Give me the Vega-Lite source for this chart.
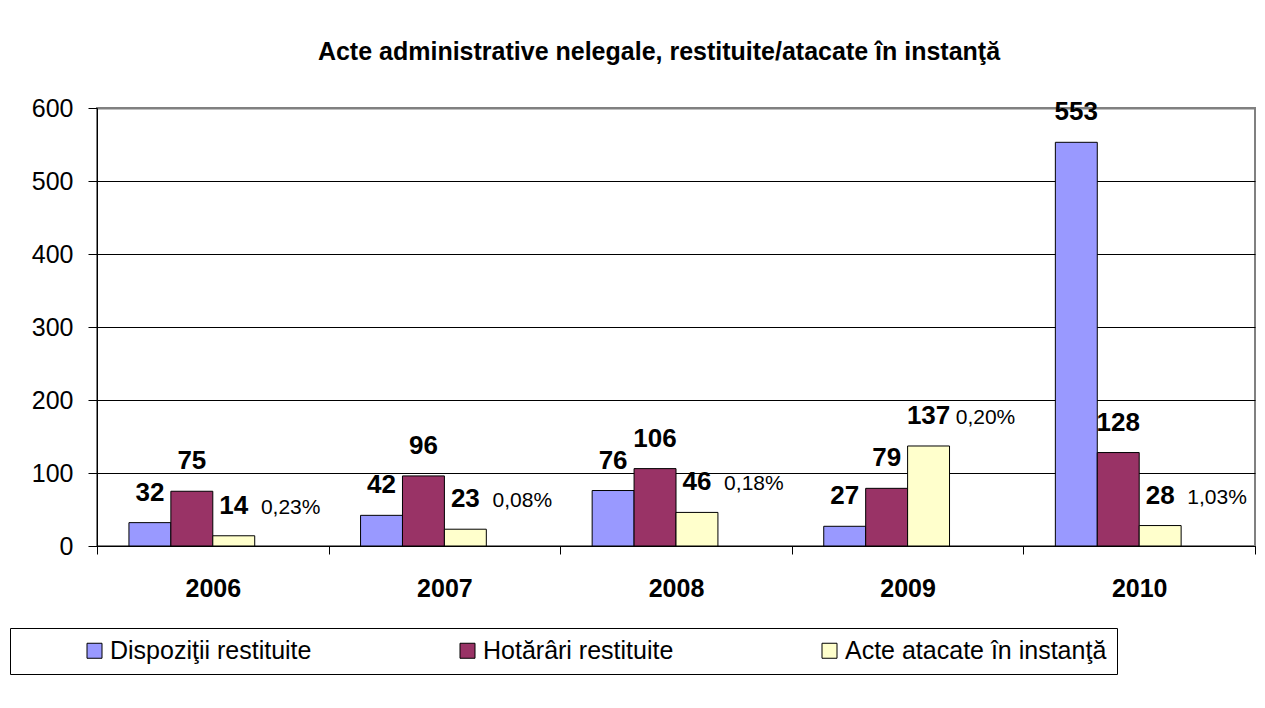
{
  "$schema": "https://vega.github.io/schema/vega-lite/v6.json",
  "autosize": {"type": "none"},
  "padding": {"left": 97, "top": 108, "right": 10, "bottom": 162},
  "width": 1158,
  "height": 438,
  "background": "white",
  "title": {
    "text": "Acte administrative nelegale, restituite/atacate în instanţă",
    "font": "Liberation Sans",
    "fontSize": 25,
    "fontWeight": "bold",
    "color": "black",
    "anchor": "middle",
    "frame": "group",
    "dx": -17,
    "offset": 31
  },
  "datasets": {
    "bars": [
      {"year": "2006", "series": "Dispoziţii restituite", "value": 32},
      {"year": "2006", "series": "Hotărâri restituite", "value": 75},
      {"year": "2006", "series": "Acte atacate în instanţă", "value": 14},
      {"year": "2007", "series": "Dispoziţii restituite", "value": 42},
      {"year": "2007", "series": "Hotărâri restituite", "value": 96},
      {"year": "2007", "series": "Acte atacate în instanţă", "value": 23},
      {"year": "2008", "series": "Dispoziţii restituite", "value": 76},
      {"year": "2008", "series": "Hotărâri restituite", "value": 106},
      {"year": "2008", "series": "Acte atacate în instanţă", "value": 46},
      {"year": "2009", "series": "Dispoziţii restituite", "value": 27},
      {"year": "2009", "series": "Hotărâri restituite", "value": 79},
      {"year": "2009", "series": "Acte atacate în instanţă", "value": 137},
      {"year": "2010", "series": "Dispoziţii restituite", "value": 553},
      {"year": "2010", "series": "Hotărâri restituite", "value": 128},
      {"year": "2010", "series": "Acte atacate în instanţă", "value": 28}
    ],
    "pct": [
      {"year": "2006", "series": "pct", "acte": 14, "pct": "0,23%"},
      {"year": "2007", "series": "pct", "acte": 23, "pct": "0,08%"},
      {"year": "2008", "series": "pct", "acte": 46, "pct": "0,18%"},
      {"year": "2009", "series": "pct", "acte": 137, "pct": "0,20%"},
      {"year": "2010", "series": "pct", "acte": 28, "pct": "1,03%"}
    ]
  },
  "encoding": {
    "x": {
      "field": "year",
      "type": "nominal",
      "scale": {"paddingInner": 0, "paddingOuter": 0},
      "axis": {
        "title": null,
        "labelAngle": 0,
        "labelFont": "Liberation Sans",
        "labelFontSize": 25,
        "labelFontWeight": "bold",
        "labelColor": "black",
        "labelPadding": 22,
        "tickBand": "extent",
        "tickSize": 8,
        "tickColor": "black",
        "domainColor": "black",
        "grid": false
      }
    },
    "xOffset": {
      "field": "series",
      "type": "nominal",
      "scale": {
        "domain": ["Dispoziţii restituite", "Hotărâri restituite", "Acte atacate în instanţă", "pct"],
        "paddingInner": 0,
        "paddingOuter": 0.762
      }
    }
  },
  "layer": [
    {
      "data": {"name": "bars"},
      "mark": {"type": "bar", "stroke": "black", "strokeWidth": 1},
      "encoding": {
        "y": {
          "field": "value",
          "type": "quantitative",
          "scale": {"domain": [0, 600], "nice": false},
          "axis": {
            "title": null,
            "values": [0, 100, 200, 300, 400, 500, 600],
            "labelFont": "Liberation Sans",
            "labelFontSize": 25,
            "labelColor": "black",
            "labelPadding": 15,
            "tickSize": 9,
            "tickColor": "black",
            "domainColor": "black",
            "grid": true,
            "gridColor": {"condition": {"test": "datum.value == 600", "value": "#808080"}, "value": "black"},
            "gridWidth": {"condition": {"test": "datum.value == 600", "value": 2}, "value": 1}
          }
        },
        "color": {
          "field": "series",
          "type": "nominal",
          "scale": {
            "domain": ["Dispoziţii restituite", "Hotărâri restituite", "Acte atacate în instanţă"],
            "range": ["#9999FF", "#993366", "#FFFFCC"]
          },
          "legend": {
            "title": null,
            "orient": "none",
            "legendX": -87,
            "legendY": 520,
            "direction": "horizontal",
            "columns": 3,
            "fillColor": "white",
            "strokeColor": "black",
            "padding": 10,
            "symbolType": "square",
            "symbolSize": 225,
            "symbolStrokeColor": "black",
            "symbolStrokeWidth": 1,
            "symbolOffset": 62,
            "labelOffset": 3,
            "columnPadding": 81,
            "labelFont": "Liberation Sans",
            "labelFontSize": 25,
            "labelColor": "black",
            "labelLimit": 400
          }
        }
      }
    },
    {
      "data": {"name": "bars"},
      "mark": {"type": "text", "font": "Liberation Sans", "fontSize": 26, "fontWeight": "bold", "color": "black", "baseline": "alphabetic", "dy": -22},
      "encoding": {
        "y": {"field": "value", "type": "quantitative"},
        "text": {"field": "value", "type": "quantitative"}
      }
    },
    {
      "data": {"name": "pct"},
      "mark": {"type": "text", "font": "Liberation Sans", "fontSize": 21, "color": "black", "baseline": "alphabetic", "dy": -22, "dx": 15},
      "encoding": {
        "y": {"field": "acte", "type": "quantitative"},
        "text": {"field": "pct", "type": "nominal"}
      }
    }
  ],
  "config": {
    "view": {"stroke": "#808080", "strokeWidth": 2}
  }
}
